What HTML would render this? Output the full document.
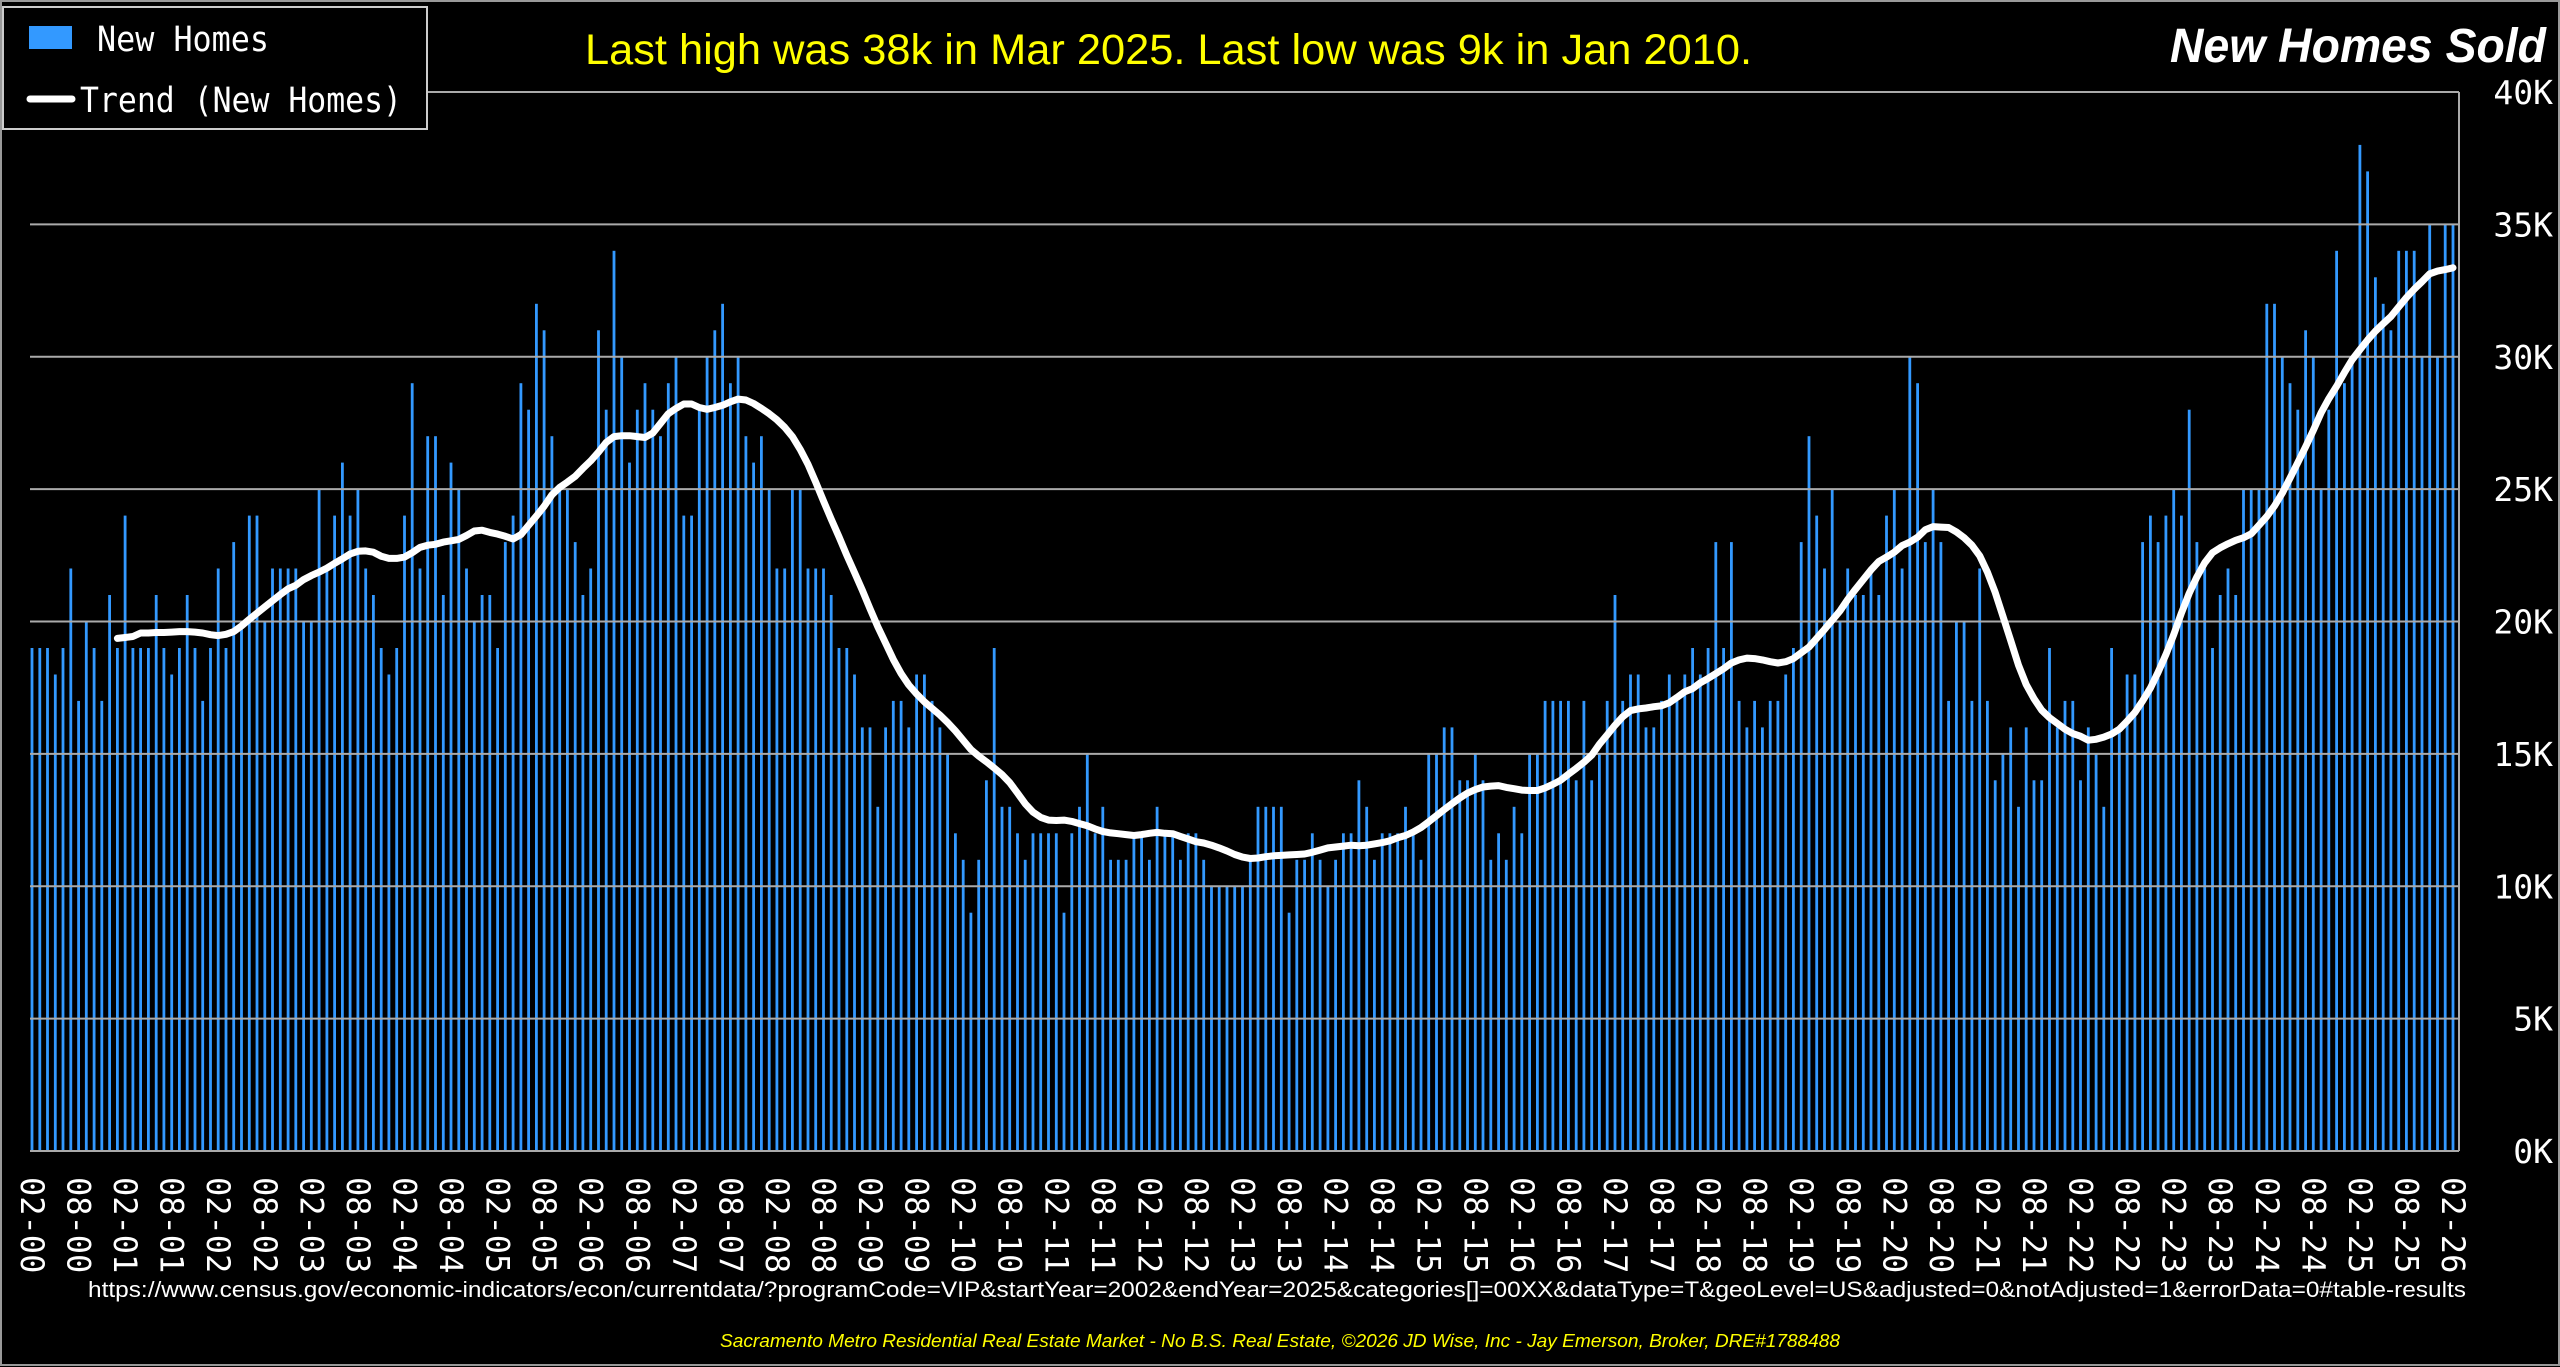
<!DOCTYPE html>
<html><head><meta charset="utf-8"><style>
html,body{margin:0;padding:0;background:#000;}
svg{display:block;}
</style></head><body>
<svg id="s" width="2560" height="1367" viewBox="0 0 2560 1367" xmlns="http://www.w3.org/2000/svg">
<rect x="0" y="0" width="2560" height="1367" fill="#000"/>
<rect x="1" y="1" width="2558" height="1364" fill="none" stroke="#999" stroke-width="2"/>
<g id="bars"></g>
<g id="grid"></g>
<path id="trend" fill="none" stroke="#fff" stroke-width="7" stroke-linejoin="round" stroke-linecap="round"/>
<g id="xl" font-family="DejaVu Sans Mono, Liberation Mono, monospace" font-size="32" fill="#fff"></g>
<g id="yl" font-family="DejaVu Sans Mono, Liberation Mono, monospace" font-size="33" fill="#fff" text-anchor="end"></g>
<rect x="3" y="7" width="424" height="122" fill="#000" stroke="#ccc" stroke-width="2"/>
<rect x="29" y="26" width="43" height="23" fill="#3399ff"/>
<line x1="30" y1="99" x2="72" y2="99" stroke="#fff" stroke-width="7" stroke-linecap="round"/>
<text x="97" y="51" font-family="DejaVu Sans Mono, Liberation Mono, monospace" font-size="35" fill="#fff" textLength="172" lengthAdjust="spacingAndGlyphs">New Homes</text>
<text x="80" y="112" font-family="DejaVu Sans Mono, Liberation Mono, monospace" font-size="35" fill="#fff" textLength="322" lengthAdjust="spacingAndGlyphs">Trend (New Homes)</text>
<text x="585" y="64" font-family="Liberation Sans, sans-serif" font-size="43" fill="#ffff00" textLength="1167" lengthAdjust="spacingAndGlyphs">Last high was 38k in Mar 2025. Last low was 9k in Jan 2010.</text>
<text x="2546" y="62" font-family="Liberation Sans, sans-serif" font-size="48" font-weight="bold" font-style="italic" fill="#fff" text-anchor="end" textLength="376" lengthAdjust="spacingAndGlyphs">New Homes Sold</text>
<text x="2466" y="1297" font-family="Liberation Sans, sans-serif" font-size="22" fill="#fff" text-anchor="end" textLength="2378" lengthAdjust="spacingAndGlyphs">https://www.census.gov/economic-indicators/econ/currentdata/?programCode=VIP&amp;startYear=2002&amp;endYear=2025&amp;categories[]=00XX&amp;dataType=T&amp;geoLevel=US&amp;adjusted=0&amp;notAdjusted=1&amp;errorData=0#table-results</text>
<text x="1280" y="1347" font-family="Liberation Sans, sans-serif" font-size="18" font-style="italic" fill="#ffff00" text-anchor="middle" textLength="1120" lengthAdjust="spacingAndGlyphs">Sacramento Metro Residential Real Estate Market - No B.S. Real Estate, ©2026 JD Wise, Inc - Jay Emerson, Broker, DRE#1788488</text>
</svg>
<script>
var d=[19,19,19,18,19,22,17,20,19,17,21,
19,24,19,19,19,21,19,18,19,21,19,17,
19,22,19,23,20,24,24,20,22,22,22,22,
20,20,25,22,24,26,24,25,22,21,19,18,
19,24,29,22,27,27,21,26,25,22,20,21,
21,19,23,24,29,28,32,31,27,25,25,23,
21,22,31,28,34,30,26,28,29,28,27,29,
30,24,24,28,30,31,32,29,30,27,26,27,
25,22,22,25,25,22,22,22,21,19,19,18,
16,16,13,16,17,17,16,18,18,17,16,15,
12,11,9,11,14,19,13,13,12,11,12,12,
12,12,9,12,13,15,12,13,11,11,11,12,
12,11,13,12,12,11,12,12,11,10,10,10,
10,10,11,13,13,13,13,9,11,11,12,11,
10,11,12,12,14,13,11,12,12,12,13,12,
11,15,15,16,16,14,14,15,14,11,12,11,
13,12,15,15,17,17,17,17,14,17,14,15,
17,21,17,18,18,16,16,17,18,17,18,19,
18,19,23,19,23,17,16,17,16,17,17,18,
19,23,27,24,22,25,20,22,21,21,22,21,
24,25,22,30,29,23,25,23,17,20,20,17,
22,17,14,15,16,13,16,14,14,19,16,17,
17,14,16,15,13,19,16,18,18,23,24,23,
24,25,24,28,23,22,19,21,22,21,25,25,
25,32,32,30,29,28,31,30,25,28,34,29,
30,38,37,33,32,31,34,34,34,30,35,30,
35,35];
var x0=32,x1=2453,n=d.length,dx=(x1-x0)/(n-1);
var y0=1151,k=(1151-92)/40;
function X(i){return x0+i*dx;}
function Y(v){return y0-v*k;}
var h='';
for(var i=0;i<n;i++){h+='<rect x="'+(X(i)-1.4).toFixed(1)+'" y="'+Y(d[i]).toFixed(1)+'" width="2.8" height="'+(d[i]*k).toFixed(1)+'" fill="#3399ff"/>';}
document.getElementById('bars').innerHTML=h;
var g='';
for(var v=5;v<=40;v+=5){g+='<line x1="30" y1="'+Y(v)+'" x2="2459" y2="'+Y(v)+'" stroke="#aaa" stroke-width="2"/>';}
g+='<line x1="30" y1="'+y0+'" x2="2459" y2="'+y0+'" stroke="#aaa" stroke-width="2"/>';
g+='<line x1="2459" y1="92" x2="2459" y2="'+y0+'" stroke="#aaa" stroke-width="2"/>';
document.getElementById('grid').innerHTML=g;
var ma=[];
for(var i=11;i<n;i++){var s=0;for(var j=i-11;j<=i;j++)s+=d[j];ma.push(s/12);}
var sm=[];
for(var i=0;i<ma.length;i++){var s=0,c=0;for(var j=i-2;j<=i+2;j++){if(j>=0&&j<ma.length){s+=ma[j];c++;}}sm.push(s/c);}
var p='';
for(var i=0;i<sm.length;i++){p+=(i==0?'M':'L')+X(i+11).toFixed(1)+','+Y(sm[i]).toFixed(1);}
document.getElementById('trend').setAttribute('d',p);
var xl='',lx0=32,lx1=2453;
for(var m=0;m<53;m++){var yr=Math.floor(m/2),mo=(m%2==0)?'02':'08';var lab=mo+'-'+(yr<10?'0':'')+yr;var x=lx0+m*(lx1-lx0)/52;
xl+='<text x="'+x.toFixed(1)+'" y="1177" transform="rotate(90 '+x.toFixed(1)+' 1177)" dominant-baseline="central">'+lab+'</text>';}
document.getElementById('xl').innerHTML=xl;
var yl='';
for(var v=0;v<=40;v+=5){yl+='<text x="2553" y="'+(Y(v)+12).toFixed(1)+'">'+v+'K</text>';}
document.getElementById('yl').innerHTML=yl;
</script>
</body></html>
